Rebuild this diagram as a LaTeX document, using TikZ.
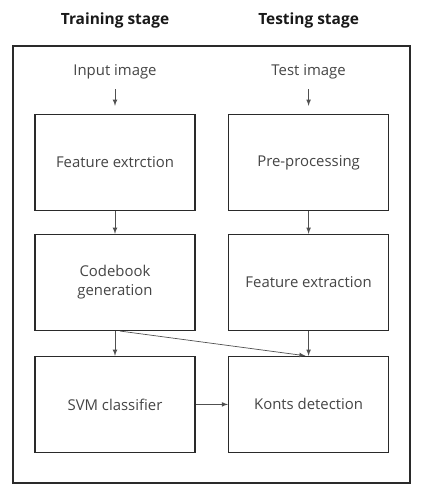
\documentclass[tikz,border=0pt]{standalone}
\usepackage{fontspec}
\setmainfont{Open Sans}
\usepackage{xcolor}
\usepackage{tikz}
\usetikzlibrary{positioning}

\definecolor{boxline}{HTML}{2A2A2A}
\definecolor{textgray}{HTML}{454545}
\definecolor{arrowgray}{HTML}{505050}

\begin{document}
\begin{tikzpicture}[
>=latex,
box/.style={rectangle, draw=boxline, fill=white, line width=0.9pt, minimum width=40mm, minimum height=24mm, align=center, text=textgray, font=\fontsize{10.6}{13.5}\selectfont},
plain/.style={text=textgray, font=\fontsize{10.6}{13.5}\selectfont},
title/.style={text=black!90, font=\fontsize{11}{13}\selectfont\bfseries},
flow/.style={->, draw=arrowgray, line width=0.5pt}
]
\useasboundingbox (0,0) rectangle (105mm,-124.5mm);
\draw[draw=boxline, line width=0.9pt] (3.25mm,-11.5mm) rectangle (102.5mm,-120.75mm);

\node[box](feat_train) at (28.75mm,-40.6mm){Feature extrction};
\node[box](prep)[right of = feat_train, node distance=48.4mm]{Pre-processing};
\node[box](code)[below of = feat_train, node distance=30mm]{Codebook\\generation};
\node[box](feat_test)[below of = prep, node distance=30mm]{Feature extraction};
\node[box](svm)[below of = code, node distance=30.5mm]{SVM classifier};
\node[box](konts)[below of = feat_test, node distance=30.5mm]{Konts detection};
\node[plain](input)[above of = feat_train, node distance=22.6mm]{Input image};
\node[plain](test)[above of = prep, node distance=22.6mm]{Test image};
\node[title](train_stage)[above of = input, node distance=13mm]{Training stage};
\node[title](test_stage)[above of = test, node distance=13mm]{Testing stage};

\draw[flow, shorten <=1.2mm, shorten >=2mm] (input) -- (feat_train);
\draw[flow, shorten <=1.2mm, shorten >=2mm] (test) -- (prep);
\draw[flow] (feat_train) -- (code);
\draw[flow] (prep) -- (feat_test);
\draw[flow] (code) -- (svm);
\draw[flow] (feat_test) -- (konts);
\draw[flow] ([xshift=1.2mm]code.south) -- ([xshift=-0.8mm]konts.north);
\draw[flow] (svm) -- (konts);

\end{tikzpicture}
\end{document}
